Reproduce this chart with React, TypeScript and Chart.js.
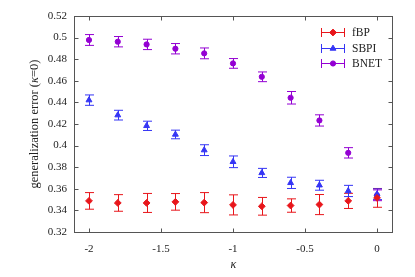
import React, { useEffect, useRef } from "react";
import { Chart, registerables } from "chart.js";

Chart.register(...registerables);

const KAPPA = [-2, -1.8, -1.6, -1.4, -1.2, -1, -0.8, -0.6, -0.4, -0.2, 0];
const FBP = [0.3488, 0.3469, 0.3469, 0.3479, 0.3472, 0.3451, 0.3438, 0.3445, 0.3454, 0.3488, 0.3516];
const FBP_ERR = [0.0077, 0.0077, 0.0088, 0.0077, 0.0093, 0.0093, 0.0082, 0.0062, 0.0093, 0.007, 0.0087];
const SBPI = [0.4421, 0.4282, 0.4183, 0.4103, 0.3958, 0.385, 0.3747, 0.3655, 0.3633, 0.358, 0.355];
const SBPI_ERR = [0.0048, 0.0045, 0.0043, 0.004, 0.005, 0.0054, 0.0042, 0.0052, 0.0046, 0.0052, 0.005];
const BNET = [0.4978, 0.4962, 0.4937, 0.4897, 0.4854, 0.4761, 0.4637, 0.4443, 0.4233, 0.3933, 0.354];
const BNET_ERR = [0.005, 0.0048, 0.0048, 0.0048, 0.005, 0.0045, 0.0045, 0.0058, 0.0052, 0.0048, 0.005];

const X_TICKS = [-2, -1.5, -1, -0.5, 0];
const Y_TICKS = [0.32, 0.34, 0.36, 0.38, 0.4, 0.42, 0.44, 0.46, 0.48, 0.5, 0.52];

const SERIES = [
  { label: "fBP", values: FBP, errors: FBP_ERR, color: "#e8161b", style: "rectRot", radius: 3.4 },
  { label: "SBPI", values: SBPI, errors: SBPI_ERR, color: "#3535f5", style: "triangle", radius: 3.4 },
  { label: "BNET", values: BNET, errors: BNET_ERR, color: "#9400d3", style: "circle", radius: 2.6 },
];

const FONT = "'Liberation Serif', 'DejaVu Serif', serif";
const FRAME = "#555555";

function drawMarker(ctx: CanvasRenderingContext2D, style: string, r: number, x: number, y: number) {
  ctx.beginPath();
  if (style === "circle") {
    ctx.arc(x, y, r, 0, Math.PI * 2);
  } else if (style === "triangle") {
    ctx.moveTo(x, y - r);
    ctx.lineTo(x + r * 0.866, y + r * 0.5);
    ctx.lineTo(x - r * 0.866, y + r * 0.5);
    ctx.closePath();
  } else {
    ctx.moveTo(x, y - r);
    ctx.lineTo(x + r, y);
    ctx.lineTo(x, y + r);
    ctx.lineTo(x - r, y);
    ctx.closePath();
  }
  ctx.fill();
  ctx.stroke();
}

const decorPlugin = {
  id: "decor",
  beforeDatasetsDraw(chart: any) {
    const ctx = chart.ctx;
    const xs = chart.scales.x;
    const ys = chart.scales.y;
    ctx.save();
    ctx.globalAlpha = 1;
    SERIES.forEach((s, si) => {
      const ds: any = chart.data.datasets[si];
      ctx.strokeStyle = s.color;
      ctx.lineWidth = 1;
      ds.data.forEach((p: any, i: number) => {
        const e = s.errors[i];
        const x = Math.round(xs.getPixelForValue(p.x)) + 0.5;
        const y1 = ys.getPixelForValue(p.y + e);
        const y2 = ys.getPixelForValue(p.y - e);
        ctx.beginPath();
        ctx.moveTo(x, y1);
        ctx.lineTo(x, y2);
        ctx.moveTo(x - 4.5, y1);
        ctx.lineTo(x + 4.5, y1);
        ctx.moveTo(x - 4.5, y2);
        ctx.lineTo(x + 4.5, y2);
        ctx.stroke();
      });
    });
    ctx.restore();
  },
  afterDraw(chart: any) {
    const ctx = chart.ctx;
    const a = chart.chartArea;
    const xs = chart.scales.x;
    const ys = chart.scales.y;
    ctx.save();
    // frame
    ctx.strokeStyle = FRAME;
    ctx.lineWidth = 1;
    const L = Math.round(a.left) + 0.5;
    const R = Math.round(a.right) + 0.5;
    const T = Math.round(a.top) + 0.5;
    const B = Math.round(a.bottom) + 0.5;
    ctx.strokeRect(L, T, R - L, B - T);
    // inward ticks
    ctx.beginPath();
    X_TICKS.forEach((v) => {
      const x = Math.round(xs.getPixelForValue(v)) + 0.5;
      ctx.moveTo(x, B);
      ctx.lineTo(x, B - 4);
      ctx.moveTo(x, T);
      ctx.lineTo(x, T + 4);
    });
    Y_TICKS.forEach((v) => {
      const y = Math.round(ys.getPixelForValue(v)) + 0.5;
      ctx.moveTo(L, y);
      ctx.lineTo(L + 4, y);
      ctx.moveTo(R, y);
      ctx.lineTo(R - 4, y);
    });
    ctx.stroke();

    // legend
    const lx1 = 321;
    const lx2 = 345;
    SERIES.forEach((s, i) => {
      const y = Math.round(32 + i * 15.5) + 0.5;
      ctx.strokeStyle = s.color;
      ctx.lineWidth = 1;
      ctx.beginPath();
      ctx.moveTo(lx1, y);
      ctx.lineTo(lx2, y);
      ctx.moveTo(lx1 + 0.5, y - 4.5);
      ctx.lineTo(lx1 + 0.5, y + 4.5);
      ctx.moveTo(lx2 - 0.5, y - 4.5);
      ctx.lineTo(lx2 - 0.5, y + 4.5);
      ctx.stroke();
      ctx.fillStyle = s.color;
      drawMarker(ctx, s.style, s.radius, (lx1 + lx2) / 2, y);
      ctx.fillStyle = "#222";
      ctx.font = `11.5px ${FONT}`;
      ctx.textAlign = "left";
      ctx.textBaseline = "middle";
      ctx.fillText(chart.data.datasets[i].label, 352, y + 0.5);
    });

    // x title
    ctx.fillStyle = "#222";
    ctx.font = `italic 12px ${FONT}`;
    ctx.textAlign = "center";
    ctx.textBaseline = "middle";
    ctx.fillText("κ", (a.left + a.right) / 2 + 0.5, 265);

    // y title (rotated, with italic kappa)
    ctx.translate(35, (a.top + a.bottom) / 2);
    ctx.rotate(-Math.PI / 2);
    const size = 12.5;
    const parts = [
      { t: "generalization error (", f: `${size}px ${FONT}` },
      { t: "κ", f: `italic ${size}px ${FONT}` },
      { t: "=0)", f: `${size}px ${FONT}` },
    ];
    let total = 0;
    parts.forEach((p) => {
      ctx.font = p.f;
      total += ctx.measureText(p.t).width;
    });
    let x = -total / 2;
    ctx.textAlign = "left";
    parts.forEach((p) => {
      ctx.font = p.f;
      ctx.fillText(p.t, x, 0);
      x += ctx.measureText(p.t).width;
    });
    ctx.restore();
  },
};

export default function App() {
  const ref = useRef<HTMLCanvasElement>(null);
  useEffect(() => {
    if (!ref.current) return;
    const chart = new Chart(ref.current, {
      type: "scatter",
      data: {
        datasets: SERIES.map((s) => ({
          label: s.label,
          data: KAPPA.map((k, i) => ({ x: k, y: s.values[i] })),
          borderColor: s.color,
          backgroundColor: s.color,
          pointStyle: s.style,
          pointRadius: s.radius,
          pointBorderWidth: 1,
          showLine: false,
        })) as any,
      },
      options: {
        animation: false,
        responsive: false,
        devicePixelRatio: 1,
        layout: { padding: { left: 0, top: 16, right: 23, bottom: 0 } },
        plugins: { legend: { display: false }, tooltip: { enabled: false } },
        scales: {
          x: {
            type: "linear",
            min: -2.104,
            max: 0.104,
            grid: { display: false, drawTicks: false },
            border: { display: false },
            afterBuildTicks: (s: any) => {
              s.ticks = X_TICKS.map((v) => ({ value: v }));
            },
            afterFit: (s: any) => {
              s.height = 45;
            },
            ticks: {
              padding: 11,
              color: "#222",
              font: { family: FONT, size: 11 },
              maxRotation: 0,
              callback: (v: any) => String(v),
            },
          },
          y: {
            type: "linear",
            min: 0.32,
            max: 0.52,
            grid: { display: false, drawTicks: false },
            border: { display: false },
            afterBuildTicks: (s: any) => {
              s.ticks = Y_TICKS.map((v) => ({ value: v }));
            },
            afterFit: (s: any) => {
              s.width = 74;
            },
            ticks: {
              padding: 7,
              color: "#222",
              font: { family: FONT, size: 11 },
              callback: (v: any) => String(Number(Number(v).toFixed(2))),
            },
          },
        },
      },
      plugins: [decorPlugin],
    });
    return () => chart.destroy();
  }, []);
  return (
    <div style={{ position: "absolute", left: 0, top: 0, width: 415, height: 277, background: "#fff" }}>
      <canvas ref={ref} width={415} height={277} />
    </div>
  );
}
